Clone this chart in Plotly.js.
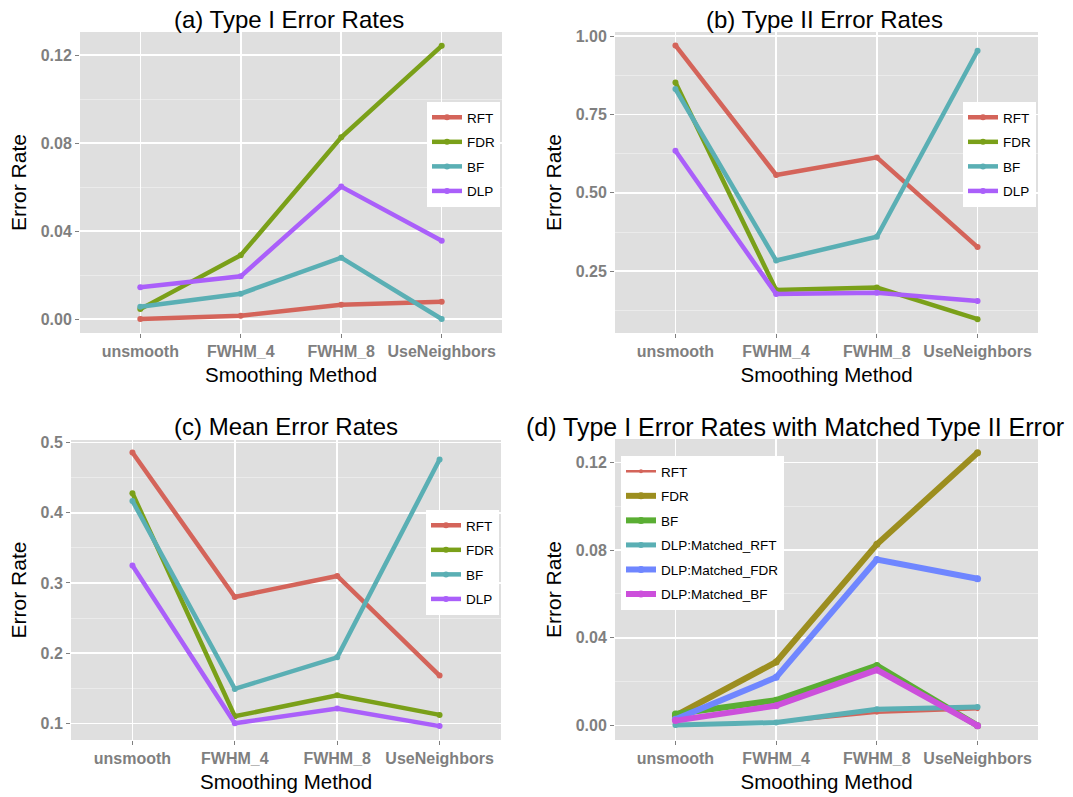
<!DOCTYPE html>
<html>
<head>
<meta charset="utf-8">
<script src="https://cdn.plot.ly/plotly-3.0.1.min.js"></script>
<style>html,body{margin:0;padding:0;background:#fff}#chart{width:1073px;height:797px}</style>
</head>
<body>
<div id="chart"></div>
<script>
// ---- data ----
const methods = ["unsmooth", "FWHM_4", "FWHM_8", "UseNeighbors"];

// (a) Type I error rates
const typeI_RFT = [0.0000, 0.0015, 0.0065, 0.0079];
const typeI_FDR = [0.0045, 0.0290, 0.0826, 0.1242];
const typeI_BF  = [0.0056, 0.0115, 0.0279, 0.0000];
const typeI_DLP = [0.0144, 0.0194, 0.0602, 0.0356];

// (b) Type II error rates
const typeII_RFT = [0.970, 0.557, 0.613, 0.327];
const typeII_FDR = [0.852, 0.190, 0.198, 0.097];
const typeII_BF  = [0.831, 0.284, 0.360, 0.953];
const typeII_DLP = [0.634, 0.177, 0.181, 0.155];

// (c) Mean error rates
const mean_RFT = [0.486, 0.280, 0.310, 0.168];
const mean_FDR = [0.428, 0.110, 0.140, 0.112];
const mean_BF  = [0.417, 0.149, 0.194, 0.476];
const mean_DLP = [0.325, 0.100, 0.121, 0.096];

// (d) Type I error with matched Type II error
const matched_RFT     = [0.0000, 0.0014, 0.0059, 0.0075];
const matched_FDR     = [0.0045, 0.0290, 0.0826, 0.1243];
const matched_BF      = [0.0053, 0.0116, 0.0274, 0.0000];
const matched_DLP_RFT = [0.0003, 0.0014, 0.0075, 0.0085];
const matched_DLP_FDR = [0.0029, 0.0220, 0.0757, 0.0669];
const matched_DLP_BF  = [0.0023, 0.0091, 0.0254, 0.0000];

const namesABC = ["RFT", "FDR", "BF", "DLP"];
const colorsABC = ["#D4645A", "#7AA019", "#5AAFB4", "#AA5FFA"];
const namesD = ["RFT", "FDR", "BF", "DLP:Matched_RFT", "DLP:Matched_FDR", "DLP:Matched_BF"];
const colorsD = ["#D4645A", "#9C8E1F", "#5AAE33", "#5AAFB4", "#6F86FF", "#CC4FDB"];
const widthsD = [2.5, 6, 6, 5, 6, 6];

// ---- build ----
const W = 1073, H = 797;
const FONT = "Liberation Sans, Arial, Helvetica, sans-serif";
const traces = [];
function addSet(arrs, names, colors, widths, xa, ya, leg, msize) {
  arrs.forEach((vals, i) => {
    traces.push({
      type: "scatter", mode: "lines+markers",
      x: methods, y: vals, name: names[i],
      xaxis: xa, yaxis: ya, legend: leg, legendgroup: leg + "_" + i,
      line: {color: colors[i], width: widths ? widths[i] : 4.5},
      marker: {color: colors[i], size: msize ? msize[i] : 6},
      hoverinfo: "x+y+name"
    });
  });
}
addSet([typeI_RFT, typeI_FDR, typeI_BF, typeI_DLP], namesABC, colorsABC, null, "x", "y", "legend");
addSet([typeII_RFT, typeII_FDR, typeII_BF, typeII_DLP], namesABC, colorsABC, null, "x2", "y2", "legend2");
addSet([mean_RFT, mean_FDR, mean_BF, mean_DLP], namesABC, colorsABC, null, "x3", "y3", "legend3");
addSet([matched_RFT, matched_FDR, matched_BF, matched_DLP_RFT, matched_DLP_FDR, matched_DLP_BF],
       namesD, colorsD, widthsD, "x4", "y4", "legend4", [4, 7, 7, 6, 7, 7]);

function px(x) { return x / W; }
function py(y) { return 1 - y / H; }

function xaxis(l, r, anchor) {
  return {
    domain: [px(l), px(r)], anchor: anchor, type: "category",
    range: [-0.6, 3.6], showgrid: true, gridcolor: "#FFFFFF", gridwidth: 1.5,
    zeroline: false, showline: false,
    ticks: "outside", ticklen: 4, tickcolor: "#7F7F7F", tickwidth: 1,
    tickfont: {family: FONT, size: 16, color: "#7F7F7F", weight: "bold"},
    title: {text: "Smoothing Method", font: {family: FONT, size: 20.5, color: "#000"}, standoff: 8},
    fixedrange: true
  };
}
function yaxis(t, b, anchor, range, dtick, fmt) {
  return {
    domain: [py(b), py(t)], anchor: anchor, range: range,
    tick0: 0, dtick: dtick, tickformat: fmt,
    showgrid: true, gridcolor: "#FFFFFF", gridwidth: 1.5,
    minor: {tick0: 0, dtick: dtick / 2, showgrid: true, gridcolor: "#F0F0F0", gridwidth: 0.7, ticks: ""},
    zeroline: false, showline: false,
    ticks: "outside", ticklen: 4, tickcolor: "#7F7F7F", tickwidth: 1,
    tickfont: {family: FONT, size: 16, color: "#7F7F7F", weight: "bold"},
    title: {text: "Error Rate", font: {family: FONT, size: 21, color: "#000"}, standoff: 8},
    fixedrange: true
  };
}
function legend(x, y) {
  return {
    x: px(x), y: py(y), xanchor: "left", yanchor: "top",
    bgcolor: "#FFFFFF", borderwidth: 0,
    font: {family: FONT, size: 13.5, color: "#000"},
    traceorder: "grouped", tracegroupgap: 4, itemwidth: 30
  };
}
function title(text, x, y, size) {
  return {text: text, x: px(x), y: py(y), xref: "paper", yref: "paper",
          xanchor: "center", yanchor: "middle", showarrow: false,
          font: {family: FONT, size: size, color: "#000"}};
}

const layout = {
  width: W, height: H,
  margin: {l: 0, r: 0, t: 0, b: 0},
  paper_bgcolor: "#FFFFFF", plot_bgcolor: "#DFDFDF",
  font: {family: FONT},
  showlegend: true,
  xaxis:  xaxis(80, 502, "y"),
  yaxis:  yaxis(32, 333, "x", [-0.00636, 0.1305], 0.04, ".2f"),
  xaxis2: xaxis(615, 1038, "y2"),
  yaxis2: yaxis(32, 333, "x2", [0.053, 1.0128], 0.25, ".2f"),
  xaxis3: xaxis(71, 501, "y3"),
  yaxis3: yaxis(440, 740, "x3", [0.0762, 0.5038], 0.1, ".1f"),
  xaxis4: xaxis(615, 1038, "y4"),
  yaxis4: yaxis(439, 740, "x4", [-0.00654, 0.1306], 0.04, ".2f"),
  legend:  legend(427, 102),
  legend2: legend(963, 102),
  legend3: legend(426, 510),
  legend4: legend(621, 456),
  annotations: [
    title("(a) Type I Error Rates", 289, 19, 24),
    title("(b) Type II Error Rates", 824, 19, 24),
    title("(c) Mean Error Rates", 286, 426, 24),
    title("(d) Type I Error Rates with Matched Type II Error", 794.5, 427, 25)
  ]
};
Plotly.newPlot("chart", traces, layout, {displayModeBar: false, staticPlot: true});
</script>
</body>
</html>
